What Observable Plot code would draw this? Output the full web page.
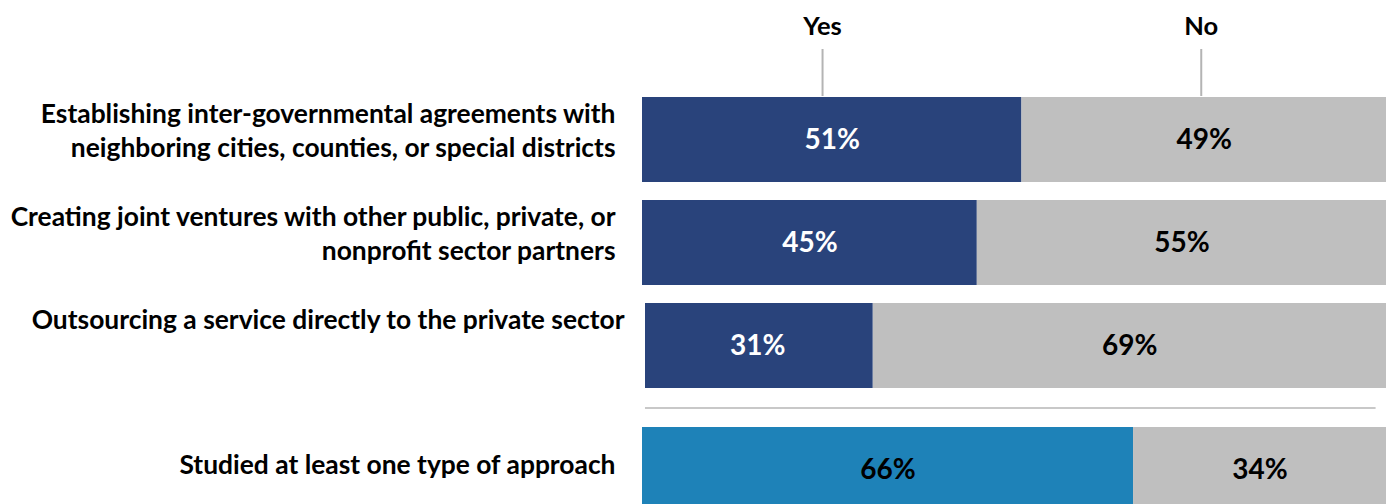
<!DOCTYPE html>
<html><head><meta charset="utf-8">
<script src="https://cdn.jsdelivr.net/npm/d3@7"></script>
<script src="https://cdn.jsdelivr.net/npm/@observablehq/plot@0.6"></script>
<style>
html,body{margin:0;padding:0;overflow:hidden;background:#fff;}
#chart svg{display:block;font-family:Lato,sans-serif;}
</style>
</head><body><div id="chart"></div>
<script>
const categories = [
  "Establishing inter-governmental agreements with\nneighboring cities, counties, or special districts",
  "Creating joint ventures with other public, private, or\nnonprofit sector partners",
  "Outsourcing a service directly to the private sector",
  "Studied at least one type of approach"
];
const yesValues = [51, 45, 31, 66];
const noValues = [49, 55, 69, 34];
const answers = ["Yes", "No"];
const headerTicks = [24.2, 75.1];

const rows = categories.flatMap((c, i) => [
  {category: c, row: i, answer: "Yes", value: yesValues[i], start: 0, end: yesValues[i], total: i === 3},
  {category: c, row: i, answer: "No", value: noValues[i], start: yesValues[i], end: yesValues[i] + noValues[i], total: i === 3}
]);
const items = rows.filter(d => !d.total);
const totals = rows.filter(d => d.total);
const isRow3Yes = d => d.row === 2 && d.answer === "Yes";
const barsMain = items.filter(d => !isRow3Yes(d));
const barRow3Yes = items.filter(isRow3Yes);
const headerMap = new Map(headerTicks.map((t, i) => [t, answers[i]]));

const fillFn = d => d.answer === "No" ? "#bfbfbf" : (d.total ? "#1e82b8" : "#29437b");
const textFn = d => (d.answer === "Yes" && !d.total) ? "#ffffff" : "#000000";
const labelOpts = {y: d => d, text: d => d, frameAnchor: "left", textAnchor: "end", fontSize: 26.4, fontWeight: "bold", fill: "#000"};
const valueOpts = {x: d => (d.start + d.end) / 2, y: "category", text: d => d.value + "%", fill: textFn, fontSize: 28, fontWeight: "bold"};

const plot = Plot.plot({
  width: 1387,
  height: 504,
  marginLeft: 642,
  marginRight: 1,
  marginTop: 97,
  marginBottom: 9,
  style: {fontFamily: "Lato, sans-serif", background: "#fff"},
  x: {domain: [0, 100], axis: null},
  y: {domain: categories, paddingInner: 0.173, paddingOuter: 0, align: 0, axis: null},
  marks: [
    Plot.barX(barsMain, {x1: "start", x2: "end", y: "category", fill: fillFn}),
    Plot.barX(barRow3Yes, {x1: "start", x2: "end", y: "category", fill: fillFn, insetLeft: 3}),
    Plot.barX(totals, {x1: "start", x2: "end", y: "category", fill: fillFn, dy: 21}),
    Plot.text(items, valueOpts),
    Plot.text(totals, {...valueOpts, dy: 21}),
    Plot.ruleY([categories[3]], {y: d => d, x1: 0.4, x2: 98.6, dy: -41, stroke: "#c8c8c8", strokeWidth: 2}),
    Plot.text(categories.slice(0, 2), {...labelOpts, dx: -27, lineAnchor: "top", dy: -41, lineHeight: 1.29}),
    Plot.text(categories.slice(2, 3), {...labelOpts, dx: -18, lineAnchor: "top", dy: -41, lineHeight: 1.29}),
    Plot.text(categories.slice(3), {...labelOpts, dx: -27, lineAnchor: "middle", dy: 17}),
    Plot.axisX(headerTicks, {anchor: "top", label: null, tickFormat: d => headerMap.get(d), tickSize: 47, tickPadding: 14, dy: -2, stroke: "#b4b4b4", strokeWidth: 2, fontSize: 25.5, fontWeight: "bold", fill: "#000"})
  ]
});
document.getElementById("chart").appendChild(plot);
</script>
</body></html>
